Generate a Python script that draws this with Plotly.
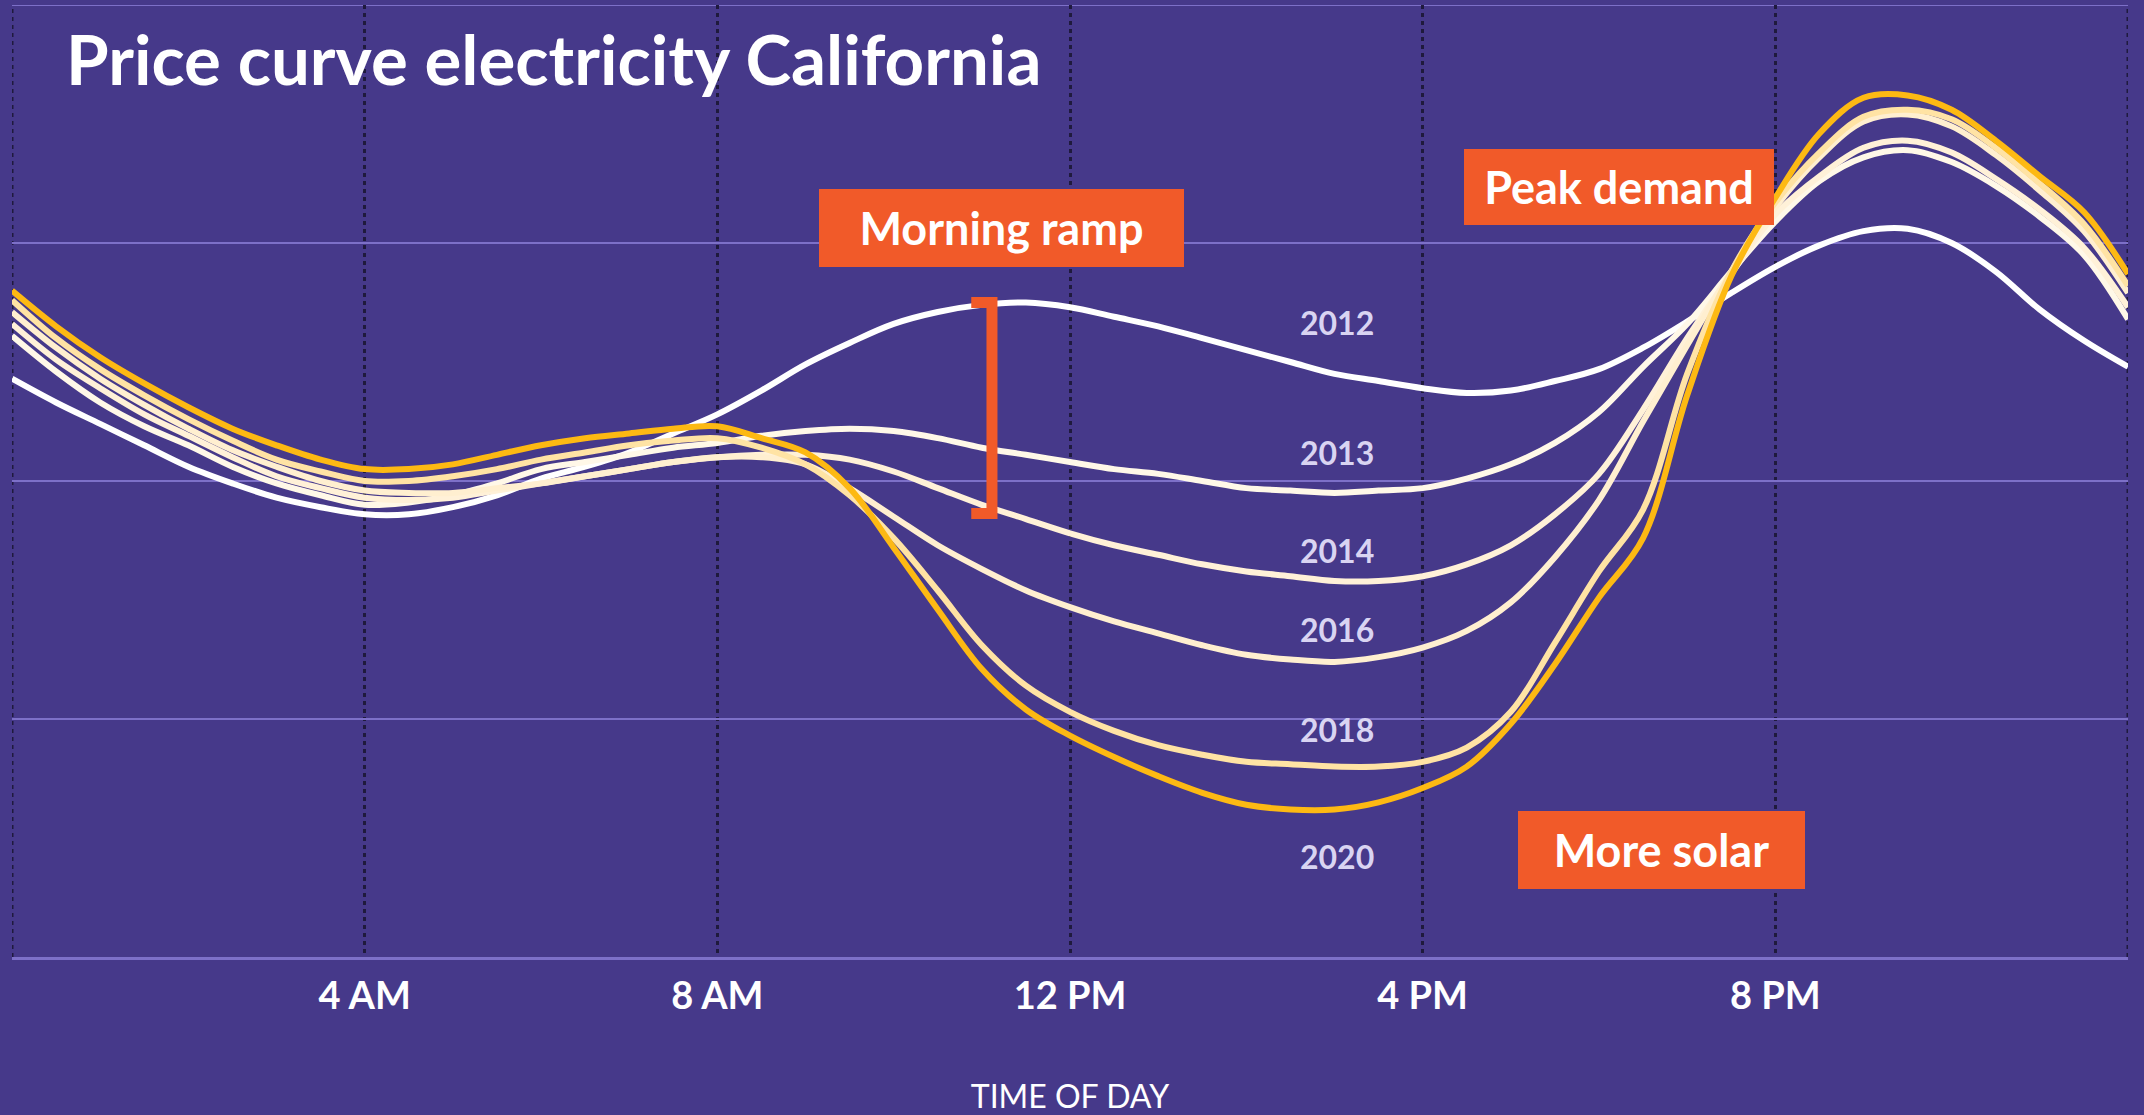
import plotly.graph_objects as go

# ---------------- data ----------------
hours = [h / 2 for h in range(49)]  # 0, 0.5, ... 24

price_2012 = [2.43, 2.33, 2.24, 2.15, 2.06, 1.99, 1.93, 1.89, 1.86, 1.86,
              1.89, 1.94, 2.01, 2.06, 2.12, 2.20, 2.28, 2.38, 2.49, 2.58,
              2.66, 2.71, 2.74, 2.75, 2.73, 2.69, 2.65, 2.60, 2.55, 2.50,
              2.45, 2.42, 2.39, 2.37, 2.38, 2.42, 2.47, 2.56, 2.67, 2.79,
              2.90, 2.99, 3.05, 3.06, 3.00, 2.88, 2.72, 2.59, 2.48]
price_2013 = [2.61, 2.46, 2.33, 2.23, 2.15, 2.06, 1.99, 1.94, 1.90, 1.91,
              1.94, 1.99, 2.05, 2.08, 2.11, 2.14, 2.16, 2.19, 2.21, 2.22,
              2.21, 2.18, 2.14, 2.11, 2.08, 2.05, 2.03, 2.00, 1.97, 1.96,
              1.95, 1.96, 1.97, 2.01, 2.07, 2.16, 2.29, 2.48, 2.66, 2.88,
              3.09, 3.26, 3.36, 3.39, 3.34, 3.24, 3.11, 2.95, 2.68]
price_2014 = [2.66, 2.51, 2.39, 2.28, 2.19, 2.10, 2.02, 1.97, 1.93, 1.92,
              1.93, 1.96, 1.99, 2.02, 2.05, 2.08, 2.10, 2.11, 2.11, 2.09,
              2.04, 1.97, 1.90, 1.84, 1.78, 1.73, 1.69, 1.65, 1.62, 1.60,
              1.58, 1.58, 1.60, 1.65, 1.73, 1.86, 2.03, 2.30, 2.60, 2.87,
              3.12, 3.28, 3.40, 3.43, 3.38, 3.27, 3.14, 2.98, 2.73]
price_2016 = [2.71, 2.56, 2.43, 2.32, 2.22, 2.13, 2.06, 2.00, 1.96, 1.95,
              1.95, 1.97, 1.99, 2.02, 2.05, 2.08, 2.10, 2.10, 2.07, 1.97,
              1.85, 1.73, 1.63, 1.54, 1.47, 1.41, 1.36, 1.31, 1.27, 1.25,
              1.24, 1.26, 1.30, 1.37, 1.49, 1.68, 1.92, 2.25, 2.57, 2.88,
              3.15, 3.36, 3.51, 3.54, 3.49, 3.37, 3.22, 3.05, 2.79]
price_2018 = [2.76, 2.60, 2.47, 2.36, 2.26, 2.17, 2.09, 2.04, 2.00, 2.00,
              2.02, 2.05, 2.09, 2.12, 2.15, 2.17, 2.18, 2.14, 2.07, 1.94,
              1.76, 1.54, 1.31, 1.14, 1.03, 0.95, 0.89, 0.85, 0.82, 0.81,
              0.80, 0.80, 0.82, 0.88, 1.03, 1.32, 1.62, 1.88, 2.45, 2.88,
              3.17, 3.38, 3.53, 3.56, 3.52, 3.40, 3.25, 3.08, 2.82]
price_2020 = [2.80, 2.65, 2.52, 2.41, 2.31, 2.22, 2.15, 2.09, 2.05, 2.05,
              2.07, 2.11, 2.15, 2.18, 2.20, 2.22, 2.23, 2.18, 2.12, 1.97,
              1.72, 1.46, 1.21, 1.04, 0.93, 0.84, 0.76, 0.69, 0.64, 0.62,
              0.62, 0.65, 0.71, 0.80, 0.98, 1.23, 1.51, 1.76, 2.36, 2.86,
              3.19, 3.46, 3.61, 3.62, 3.56, 3.43, 3.28, 3.13, 2.87]

years = ["2012", "2013", "2014", "2016", "2018", "2020"]
series = [price_2012, price_2013, price_2014, price_2016, price_2018, price_2020]

tick_hours = [0, 4, 8, 12, 16, 20, 24]
tick_labels = ["", "4 AM", "8 AM", "12 PM", "4 PM", "8 PM", ""]

# morning-ramp bracket (hours, price units)
ramp_x = [10.88, 11.115, 11.115, 10.88]
ramp_y = [2.750, 2.750, 1.863, 1.863]

# ---------------- styles ----------------
BG = "#46398A"
HGRID = "#7D70C8"
VGRID = "#1F1A3D"
ORANGE = "#F15A29"
LABEL = "#D9D4F2"
line_colors = ["#FFFFFF", "#FFF8E8", "#FFF1D8", "#FFEFD0", "#FFE3A4", "#FDB913"]
FONT = "Lato, 'Open Sans', 'DejaVu Sans', sans-serif"

label_x = [15.03] * 6
label_y = [2.664, 2.118, 1.706, 1.374, 0.958, 0.424]

fig = go.Figure()
for yr, vals, col in zip(years, series, line_colors):
    fig.add_trace(go.Scatter(
        x=hours, y=vals, mode="lines", name=yr,
        line=dict(color=col, width=6, shape="spline", smoothing=1.0),
        hoverinfo="skip", showlegend=False,
    ))

fig.add_trace(go.Scatter(
    x=ramp_x, y=ramp_y, mode="lines",
    line=dict(color=ORANGE, width=11),
    hoverinfo="skip", showlegend=False,
))

annotations = []
for yr, lx, ly in zip(years, label_x, label_y):
    annotations.append(dict(
        x=lx, y=ly, xref="x", yref="y", text=yr, showarrow=False,
        font=dict(family=FONT, size=32, color=LABEL, weight="bold"),
        xanchor="center", yanchor="middle",
    ))

boxes = [
    ("Morning ramp", 11.22, 3.063, 365, 78),
    ("Peak demand", 18.23, 3.235, 310, 76),
    ("More solar", 18.71, 0.45, 287, 78),
]
for txt, bx, by, bw, bh in boxes:
    annotations.append(dict(
        x=bx, y=by, xref="x", yref="y", text=txt, showarrow=False,
        font=dict(family=FONT, size=45, color="white", weight="bold"),
        bgcolor=ORANGE, borderwidth=0, borderpad=0,
        width=bw, height=bh, align="center", valign="middle",
        xanchor="center", yanchor="middle",
    ))

annotations.append(dict(
    x=0.0246, y=0.9443, xref="paper", yref="paper",
    text="Price curve electricity California", showarrow=False,
    font=dict(family=FONT, size=69, color="white", weight="bold"),
    xanchor="left", yanchor="middle",
))

# edge grid lines that plotly omits at the ends of the axis ranges
shapes = [
    dict(type="line", xref="x", yref="paper", x0=0, x1=0, y0=0, y1=1, layer="below",
         line=dict(color=VGRID, width=3, dash="4px,4px")),
    dict(type="line", xref="x", yref="paper", x0=24, x1=24, y0=0, y1=1, layer="below",
         line=dict(color=VGRID, width=3, dash="4px,4px")),
    dict(type="line", xref="paper", yref="y", x0=0, x1=1, y0=4, y1=4, layer="below",
         line=dict(color=HGRID, width=2)),
]

fig.update_layout(
    width=2144, height=1115,
    margin=dict(l=12, r=16, t=5, b=158),
    paper_bgcolor=BG, plot_bgcolor=BG,
    showlegend=False,
    font=dict(family=FONT, color="white"),
    annotations=annotations,
    shapes=shapes,
)

fig.update_xaxes(
    range=[0, 24], tickvals=tick_hours, ticktext=tick_labels,
    showgrid=True, gridcolor=VGRID, gridwidth=3, griddash="4px,4px",
    showline=True, linecolor=HGRID, linewidth=3,
    zeroline=False, ticks="", ticklabelstandoff=3,
    tickfont=dict(family=FONT, size=38, color="white", weight="bold"),
    title=dict(text="TIME OF DAY", font=dict(family=FONT, size=32, color="white"), standoff=77),
    automargin=False, fixedrange=True,
)
fig.update_yaxes(
    range=[0, 4], tickvals=[1, 2, 3, 4], showticklabels=False,
    showgrid=True, gridcolor=HGRID, gridwidth=2,
    zeroline=False, showline=False, ticks="",
    automargin=False, fixedrange=True,
)

fig.write_html(
    "out.html",
    config={"displayModeBar": False},
    post_script="document.body.style.margin='0';document.documentElement.style.overflow='hidden';",
)
